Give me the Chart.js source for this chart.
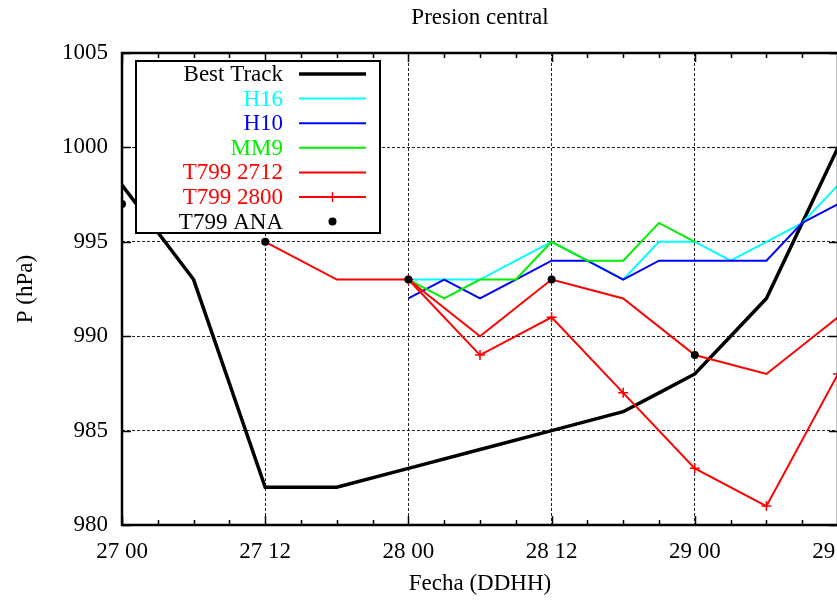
<!DOCTYPE html>
<html>
<head>
<meta charset="utf-8">
<script src="https://cdn.jsdelivr.net/npm/chart.js@4/dist/chart.umd.min.js"></script>
<style>
  body { margin: 0; overflow: hidden; background: #fff; }
  #wrap { width: 900px; height: 603px; }
</style>
</head>
<body>
<div id="wrap"><canvas id="presion" width="900" height="603"></canvas></div>
<script>
// horas desde 27 00, cada 3 h
const horas = [0, 3, 6, 9, 12, 15, 18, 21, 24, 27, 30, 33, 36, 39, 42, 45, 48, 51, 54, 57, 60];
const tickLabels = ["27 00", "27 12", "28 00", "28 12", "29 00", "29 12"];

const bestTrack = [998, null, 993, null, 982, null, 982, null, 983, null, 984, null, 985, 985.5, 986, 987, 988, 990, 992, 996, 1000];
const h16      = [null, null, null, null, null, null, null, null, 993, 993, 993, 994, 995, 994, 993, 995, 995, 994, 995, 996, 998];
const h10      = [null, null, null, null, null, null, null, null, 992, 993, 992, 993, 994, 994, 993, 994, 994, 994, 994, 996, 997];
const mm9      = [null, null, null, null, null, null, null, null, 993, 992, 993, 993, 995, 994, 994, 996, 995, null, null, null, null];
const t2712    = [null, null, null, null, 995, null, 993, null, 993, null, 990, null, 993, null, 992, null, 989, null, 988, null, 991];
const t2800    = [null, null, null, null, null, null, null, null, 993, null, 989, null, 991, null, 987, null, 983, null, 981, null, 988];
const ana      = [997, null, null, null, 995, null, null, null, 993, null, null, null, 993, null, null, null, 989, null, null, null, null];

function pts(vals) {
  const out = [];
  vals.forEach((v, i) => { if (v !== null) out.push({ x: horas[i], y: v }); });
  return out;
}

const serif = "'Liberation Serif', 'DejaVu Serif', serif";

// marco con marcas hacia dentro (como gnuplot)
const marco = {
  id: 'marco',
  afterDatasetsDraw(chart) {
    const { ctx, chartArea: a, scales } = chart;
    ctx.save();
    ctx.strokeStyle = '#000';
    ctx.lineWidth = 1.5;
    ctx.beginPath();
    for (let h = 0; h <= 60; h += 3) {
      const x = Math.round(scales.x.getPixelForValue(h)) + 0.5;
      const len = h % 12 === 0 ? 9 : 5;
      ctx.moveTo(x, a.bottom); ctx.lineTo(x, a.bottom - len);
      ctx.moveTo(x, a.top); ctx.lineTo(x, a.top + len);
    }
    for (let p = 980; p <= 1005; p += 5) {
      const y = Math.round(scales.y.getPixelForValue(p)) + 0.5;
      ctx.moveTo(a.left, y); ctx.lineTo(a.left + 9, y);
      ctx.moveTo(a.right, y); ctx.lineTo(a.right - 9, y);
    }
    ctx.stroke();
    ctx.lineWidth = 2.5;
    ctx.strokeRect(a.left, a.top, a.right - a.left, a.bottom - a.top);
    ctx.restore();
  }
};

// leyenda tipo gnuplot: texto a la derecha, muestra de linea
const leyenda = {
  id: 'leyenda',
  afterDraw(chart) {
    const { ctx, chartArea: a } = chart;
    const bx = a.left + 14, by = a.top + 8, bw = 244, bh = 172;
    ctx.save();
    ctx.fillStyle = '#fff';
    ctx.fillRect(bx, by, bw, bh);
    ctx.strokeStyle = '#000';
    ctx.lineWidth = 2;
    ctx.strokeRect(bx, by, bw, bh);
    ctx.font = "23px " + serif;
    ctx.textAlign = 'right';
    ctx.textBaseline = 'middle';
    chart.data.datasets.forEach((ds, i) => {
      const y = by + 13 + i * 24.6;
      ctx.fillStyle = ds.labelColor;
      ctx.fillText(ds.label, bx + 147, y + 1);
      const x0 = bx + 163, x1 = bx + 230, xm = (x0 + x1) / 2;
      ctx.strokeStyle = ds.borderColor;
      ctx.fillStyle = ds.borderColor;
      if (ds.showLine !== false) {
        ctx.lineWidth = ds.borderWidth;
        ctx.beginPath(); ctx.moveTo(x0, y); ctx.lineTo(x1, y); ctx.stroke();
      }
      if (ds.pointStyle === 'cross') {
        ctx.lineWidth = 1.5;
        ctx.beginPath(); ctx.moveTo(xm, y - 5); ctx.lineTo(xm, y + 5); ctx.stroke();
      }
      if (ds.showLine === false) {
        ctx.beginPath(); ctx.arc(xm, y, 4, 0, Math.PI * 2); ctx.fill();
      }
    });
    ctx.restore();
  }
};

new Chart(document.getElementById('presion').getContext('2d'), {
  type: 'line',
  data: {
    datasets: [
      { label: 'Best Track', labelColor: '#000', data: pts(bestTrack), borderColor: '#000', borderWidth: 3.5, pointRadius: 0, order: 7 },
      { label: 'H16', labelColor: '#00ffff', data: pts(h16), borderColor: '#00ffff', borderWidth: 2, pointRadius: 0, order: 6 },
      { label: 'H10', labelColor: '#0000ff', data: pts(h10), borderColor: '#0000ff', borderWidth: 2, pointRadius: 0, order: 5 },
      { label: 'MM9', labelColor: '#00ee00', data: pts(mm9), borderColor: '#00ee00', borderWidth: 2, pointRadius: 0, order: 4 },
      { label: 'T799 2712', labelColor: '#ff0000', data: pts(t2712), borderColor: '#ff0000', borderWidth: 2, pointRadius: 0, order: 3 },
      { label: 'T799 2800', labelColor: '#ff0000', data: pts(t2800), borderColor: '#ff0000', borderWidth: 2,
        pointStyle: 'cross', pointRadius: 5, pointBorderWidth: 1.5, pointBorderColor: '#ff0000', order: 2 },
      { label: 'T799 ANA', labelColor: '#000', data: pts(ana), borderColor: '#000', backgroundColor: '#000',
        showLine: false, pointRadius: 4, pointBorderWidth: 0, order: 1 }
    ]
  },
  options: {
    responsive: false,
    animation: false,
    layout: { padding: { left: 0, right: 62, top: 0, bottom: 0 } },
    plugins: {
      legend: { display: false },
      tooltip: { enabled: false },
      title: {
        display: true,
        text: 'Presion central',
        fullSize: false,
        color: '#000',
        font: { family: serif, size: 23, weight: 'normal' },
        padding: { top: 4, bottom: 21.4 }
      }
    },
    scales: {
      x: {
        type: 'linear',
        min: 0,
        max: 60,
        afterFit: s => { s.height = 78; },
        ticks: {
          stepSize: 12,
          autoSkip: false,
          maxRotation: 0,
          padding: 13,
          color: '#000',
          font: { family: serif, size: 23 },
          callback: v => tickLabels[v / 12]
        },
        grid: {
          drawTicks: false,
          lineWidth: 1,
          color: c => (c.tick && (c.tick.value === 0 || c.tick.value === 60)) ? 'rgba(0,0,0,0)' : '#222'
        },
        border: { display: false, dash: [3, 2] },
        title: {
          display: true,
          text: 'Fecha (DDHH)',
          color: '#000',
          font: { family: serif, size: 23 },
          padding: { top: 0, bottom: 5 }
        }
      },
      y: {
        min: 980,
        max: 1005,
        afterFit: s => { s.width = 122; },
        ticks: {
          stepSize: 5,
          padding: 14,
          color: '#000',
          font: { family: serif, size: 23 },
          callback: v => String(v)
        },
        grid: {
          drawTicks: false,
          lineWidth: 1,
          color: c => (c.tick && (c.tick.value === 980 || c.tick.value === 1005)) ? 'rgba(0,0,0,0)' : '#222'
        },
        border: { display: false, dash: [3, 2] },
        title: {
          display: true,
          text: 'P (hPa)',
          color: '#000',
          font: { family: serif, size: 23 },
          padding: { top: 12, bottom: 0 }
        }
      }
    }
  },
  plugins: [marco, leyenda]
});
</script>
</body>
</html>
